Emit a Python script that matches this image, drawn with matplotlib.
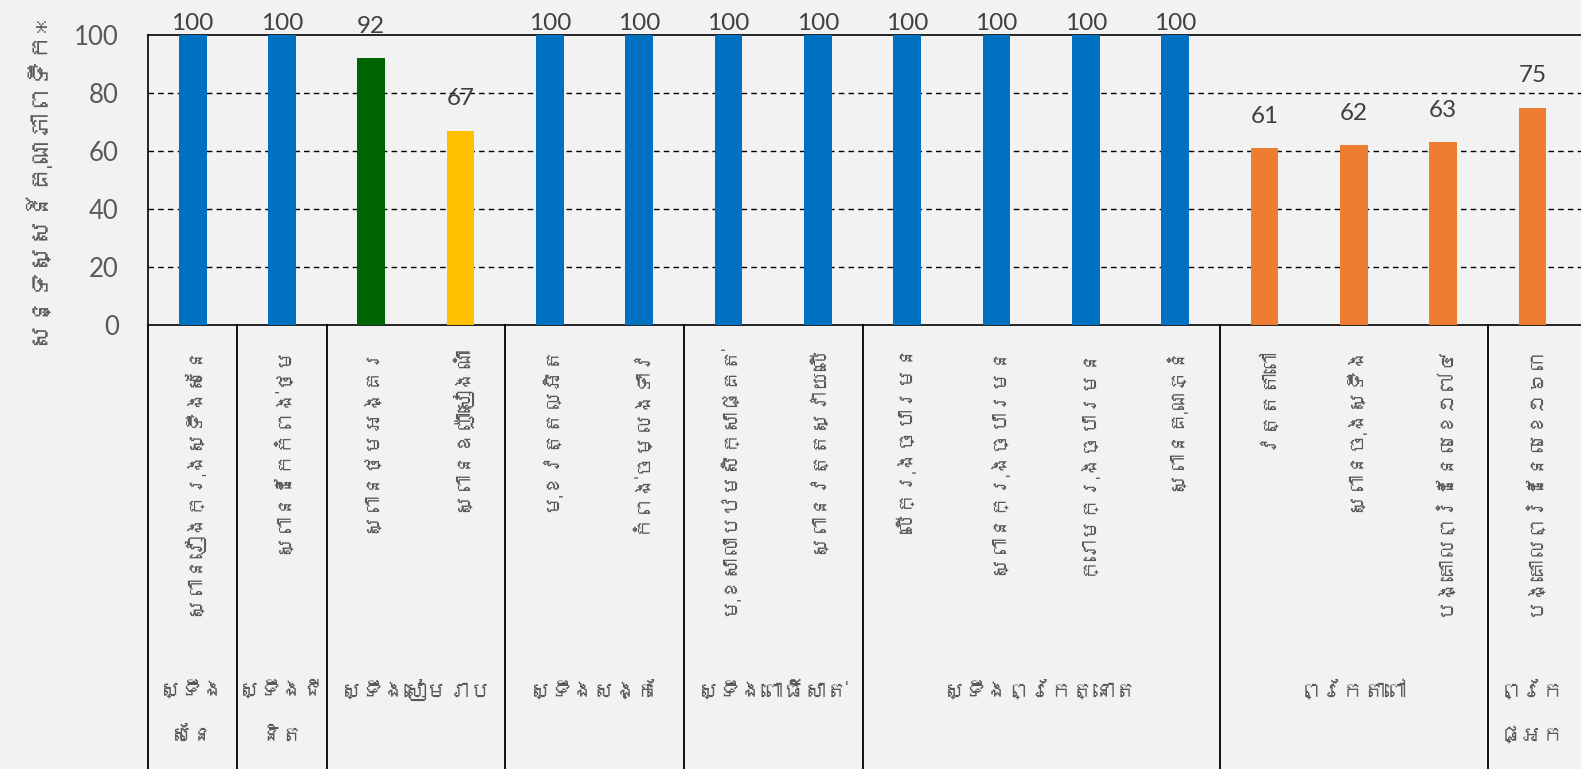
import matplotlib
matplotlib.use("Agg")
import matplotlib.pyplot as plt
from matplotlib import font_manager, transforms
from matplotlib.ft2font import FT2Font

# ---------------- data ----------------
categories = [
    "ស្ពានវៀងក្រុងស្ទឹងសែន",
    "ស្ពានដែកកំពង់ថ្ម",
    "ស្ពានថ្មអង្គរ",
    "ស្ពានឧញ៉ាសៀងណាំ",
    "មុខវត្តល្អិត",
    "កំពង់ចម្លងទាវ",
    "មុខសាលាបឋមសិក្សាផ្គត់",
    "ស្ពានវត្តស្វាយលើ",
    "លើក្រុងច្បារមន",
    "ស្ពានក្រុងច្បារមន",
    "ក្រោមក្រុងច្បារមន",
    "ស្ពានគុណភ្នំ",
    "វត្តតាពៅ",
    "ស្ពានចុងស្ទឹង",
    "បង្គោលព្រំដែនលេខ១៧៤",
    "បង្គោលព្រំដែនលេខ១៦៣",
]
values = [100, 100, 92, 67, 100, 100, 100, 100, 100, 100, 100, 100, 61, 62, 63, 75]
bar_colors = ["#0070C0", "#0070C0", "#006400", "#FFC000",
              "#0070C0", "#0070C0", "#0070C0", "#0070C0",
              "#0070C0", "#0070C0", "#0070C0", "#0070C0",
              "#ED7D31", "#ED7D31", "#ED7D31", "#ED7D31"]
groups = [["ស្ទឹង", "សែន"], ["ស្ទឹងជី", "និត"], ["ស្ទឹងសៀមរាប"], ["ស្ទឹងសង្កែ"],
          ["ស្ទឹងពោធិ៍សាត់"], ["ស្ទឹងព្រែកត្នោត"], ["ព្រែកតាពៅ"], ["ព្រែក", "ផ្អក"]]
group_sizes = [1, 1, 2, 2, 2, 4, 3, 1]
y_label = "សន្ទស្សន៍គុណភាពទឹក*"
y_ticks = [0, 20, 40, 60, 80, 100]

# ---------------- fonts ----------------
khmer_fams = []
for fe in font_manager.fontManager.ttflist:
    try:
        cm = FT2Font(fe.fname).get_charmap()
        if 0x179F in cm and fe.name not in khmer_fams:
            khmer_fams.append(fe.name)
    except Exception:
        pass
fam = khmer_fams[:1] + ["Lato", "DejaVu Sans"]
plt.rcParams["font.family"] = fam

# ---------------- figure ----------------
W, H = 1581, 769
fig = plt.figure(figsize=(W / 100, H / 100), dpi=100)
fig.patch.set_facecolor("#F2F2F2")

left_px, top_px, bot_px = 148, 35, 325
ax = fig.add_axes([left_px / W, 1 - bot_px / H, (W - left_px) / W + 0.002, (bot_px - top_px) / H])
ax.set_facecolor("#F2F2F2")

n = len(values)
x = list(range(n))
ax.bar(x, values, width=0.31, color=bar_colors, zorder=3)
ax.set_xlim(-0.5, 15.58)
ax.set_ylim(0, 100)

ax.set_yticks(y_ticks)
ax.set_yticklabels([str(t) for t in y_ticks], fontsize=18.5, color="#595959",
                   family=["Lato", "DejaVu Sans"])
ax.tick_params(axis="y", length=0, pad=21)
ax.set_xticks([])
for g in [20, 40, 60, 80]:
    ax.axhline(g, color="black", lw=1, ls=(0, (4, 3)), zorder=1)

for s in ["left", "top", "bottom"]:
    ax.spines[s].set_color("black")
    ax.spines[s].set_linewidth(1.2)
ax.spines["right"].set_visible(False)

# data labels
for xi, v in zip(x, values):
    ax.text(xi, min(v + 11.0, 104.0), str(v), ha="center", va="center",
            fontsize=17.5, color="#404040", family=["Lato", "DejaVu Sans"],
            clip_on=False)

# y label
fig.text(35 / W, 1 - 180 / H, y_label, rotation=90, ha="center", va="center",
         fontsize=19, color="#595959")

# category labels and separators
trans = transforms.blended_transform_factory(ax.transData, fig.transFigure)
for xi, c in zip(x, categories):
    ax.text(xi, 1 - 345 / H, c, rotation=90, ha="center", va="top",
            fontsize=15, color="#595959", transform=trans, clip_on=False)

start = 0
bounds = [-0.5]
for g, sz in zip(groups, group_sizes):
    center = start + (sz - 1) / 2
    for k, line in enumerate(g):
        ax.text(center, 1 - (690 + 46 * k) / H, line, ha="center", va="center",
                fontsize=15.5, color="#595959", transform=trans, clip_on=False)
    start += sz
    bounds.append(start - 0.5)

for b in bounds[:-1]:
    ax.plot([b, b], [0, 1 - bot_px / H], color="black", lw=1.3,
            transform=trans, clip_on=False)

fig.savefig("out.png", dpi=100, facecolor=fig.get_facecolor())
